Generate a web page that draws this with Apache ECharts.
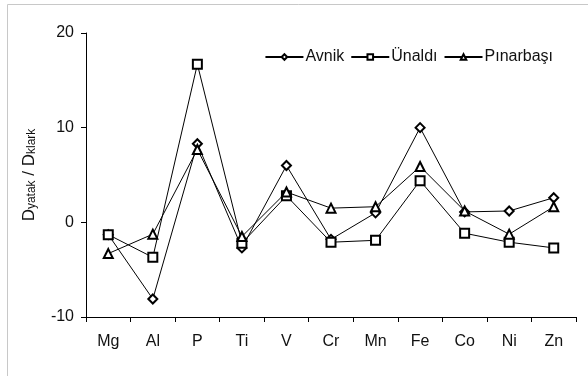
<!DOCTYPE html>
<html lang="tr">
  <head>
    <meta charset="UTF-8" />
    <title>Dyatak/Dklark</title>
    <script src="https://cdn.jsdelivr.net/npm/echarts@6/dist/echarts.min.js"></script>
    <style>
      html, body { margin: 0; padding: 0; background: #fff; }
      #chart { width: 588px; height: 376px; }
    </style>
  </head>
  <body>
    <div id="chart"></div>
    <script>
      // elementler
      var elements = ["Mg", "Al", "P", "Ti", "V", "Cr", "Mn", "Fe", "Co", "Ni", "Zn"];
      // Dyatak / Dklark degerleri
      var avnik = [-1.3, -8.1, 8.3, -2.7, 6.0, -1.8, 1.0, 10.0, 1.1, 1.2, 2.6];
      var unaldi = [-1.3, -3.7, 16.7, -2.2, 2.8, -2.1, -1.9, 4.4, -1.15, -2.1, -2.7];
      var pinarbasi = [-3.3, -1.25, 7.7, -1.5, 3.2, 1.5, 1.65, 5.9, 1.2, -1.25, 1.65];
      var yTicks = [-10, 0, 10, 20];

      var font = "Liberation Sans, Arial, sans-serif";
      var chart = echarts.init(document.getElementById("chart"));

      function lineSeries(name, data, symbol) {
        return {
          name: name,
          type: "line",
          data: data,
          symbol: symbol,
          symbolSize: 9,
          showAllSymbol: true,
          lineStyle: { color: "#000", width: 1 },
          itemStyle: { color: "#000", borderWidth: 1 },
          emphasis: { disabled: true },
          animation: false
        };
      }

      chart.setOption({
        backgroundColor: "#fff",
        graphic: [
          {
            type: "rect",
            shape: { x: 7.5, y: 4.5, width: 600, height: 400 },
            style: { fill: "none", stroke: "#c8c8c8", lineWidth: 1 },
            silent: true
          }
        ],
        grid: { left: 86, right: 12, top: 33, bottom: 59 },
        legend: {
          right: 30,
          top: 44,
          itemWidth: 38,
          itemHeight: 7,
          itemGap: 6,
          textStyle: { fontFamily: font, fontSize: 16, color: "#111", padding: [0, 0, 0, -3] },
          data: ["Avnik", "Ünaldı", "Pınarbaşı"]
        },
        xAxis: {
          type: "category",
          data: elements,
          boundaryGap: true,
          axisLine: { onZero: false, lineStyle: { color: "#000", width: 1 } },
          axisTick: { show: true, length: 5, lineStyle: { color: "#000" } },
          axisLabel: { fontFamily: font, fontSize: 16, color: "#111", margin: 17, interval: 0 }
        },
        yAxis: {
          type: "value",
          min: yTicks[0],
          max: yTicks[yTicks.length - 1],
          interval: 10,
          splitLine: { show: false },
          axisLine: { show: true, lineStyle: { color: "#000", width: 1 } },
          axisTick: { show: true, length: 5, lineStyle: { color: "#000" } },
          axisLabel: { fontFamily: font, fontSize: 16, color: "#111", margin: 12 },
          name: "{d|D}{s|yatak}{d| / D}{s|klark}",
          nameLocation: "middle",
          nameGap: 48,
          nameRotate: 90,
          nameTextStyle: {
            rich: {
              d: { fontFamily: font, fontSize: 17, color: "#111", verticalAlign: "bottom", lineHeight: 19 },
              s: { fontFamily: font, fontSize: 12, color: "#111", verticalAlign: "bottom", lineHeight: 19 }
            }
          }
        },
        series: [
          lineSeries("Avnik", avnik, "emptyDiamond"),
          lineSeries("Ünaldı", unaldi, "emptyRect"),
          lineSeries("Pınarbaşı", pinarbasi, "emptyTriangle")
        ]
      });
    </script>
  </body>
</html>
